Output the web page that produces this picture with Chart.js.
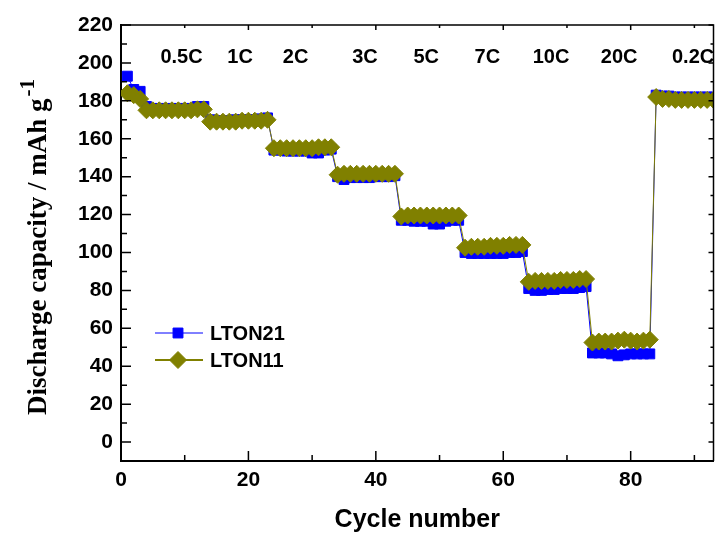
<!DOCTYPE html>
<html lang="en">
<head>
<meta charset="UTF-8">
<title>Rate capability</title>
<script src="https://cdn.jsdelivr.net/npm/chart.js@4.4.0/dist/chart.umd.min.js"></script>
<style>
  html, body { margin: 0; padding: 0; background: #fff; }
  #wrap { width: 723px; height: 540px; }
</style>
</head>
<body>
<div id="wrap"><canvas id="rateChart"></canvas></div>
<script>
const cycles = [1, 2, 3, 4, 5, 6, 7, 8, 9, 10, 11, 12, 13, 14, 15, 16, 17, 18, 19, 20,
    21, 22, 23, 24, 25, 26, 27, 28, 29, 30, 31, 32, 33, 34, 35, 36, 37, 38, 39, 40,
    41, 42, 43, 44, 45, 46, 47, 48, 49, 50, 51, 52, 53, 54, 55, 56, 57, 58, 59, 60,
    61, 62, 63, 64, 65, 66, 67, 68, 69, 70, 71, 72, 73, 74, 75, 76, 77, 78, 79, 80,
    81, 82, 83, 84, 85, 86, 87, 88, 89, 90, 91, 92, 93];

const lton21 = [193, 186, 185,
    177, 176, 176, 176, 176, 176, 176, 176, 177, 177,
    170, 169.5, 169.5, 169.5, 170, 170, 170, 170, 170.5, 171,
    154, 154, 153.5, 153.5, 153.5, 153.5, 152.5, 152.5, 154, 154.5,
    140, 138.5, 139.5, 139.5, 139.5, 139.5, 140, 140, 140, 140.5,
    117, 117, 116.5, 116.5, 116.5, 115, 115, 116.5, 117, 117,
    100, 99.5, 99.5, 99.5, 99.5, 99.5, 99.5, 100, 100, 100.5,
    81, 80, 80, 80.5, 80.5, 81, 81, 81, 81.5, 82,
    47, 47, 47, 46.5, 45.5, 46, 46.5, 46.5, 46.5, 46.5,
    183, 182.5, 182.5, 182, 182, 182, 182, 182, 182, 182];

const lton11 = [184, 183, 181,
    175, 175, 175, 175, 175, 175, 175, 175, 175.5, 175.5,
    169, 169, 169, 169, 169, 169.5, 169.5, 169.5, 169.5, 170,
    155, 155, 155, 155, 155, 155, 155, 155.5, 155.5, 155.5,
    141, 141.5, 141.5, 141.5, 141.5, 141.5, 141.5, 141.5, 141.5, 141.5,
    119, 119.5, 119.5, 119.5, 119.5, 119.5, 119.5, 119.5, 119.5, 119.5,
    102.5, 103, 103, 103, 103.5, 103.5, 103.5, 104, 104, 104,
    84.5, 85, 85, 85, 85, 85.5, 85.5, 85.5, 86, 86,
    52.5, 53, 53, 53, 53.5, 54, 53.5, 53, 53.5, 54,
    182, 181, 181, 180.5, 180.5, 180.5, 180.5, 180.5, 180.5, 180.5];

// C-rate labels along the top, placed in data coordinates
const rateLabels = ['0.5C', '1C', '2C', '3C', '5C', '7C', '10C', '20C', '0.2C'];
const rateLabelX = [9.5, 18.7, 27.4, 38.3, 47.9, 57.5, 67.5, 78.2, 89.8];
const rateLabelY = 203;

const xTicks = [0, 20, 40, 60, 80];
const xMinorTicks = [10, 30, 50, 70, 90];
const yTicks = [0, 20, 40, 60, 80, 100, 120, 140, 160, 180, 200, 220];
const yMinorTicks = [10, 30, 50, 70, 90, 110, 130, 150, 170, 190, 210];

const BLUE = '#0000ff';
const OLIVE = '#808000';
const SANS = "'Liberation Sans', Arial, sans-serif";
const SERIF = "'Liberation Serif', 'Times New Roman', serif";

function points(ys) {
    return cycles.map((c, i) => ({x: c, y: ys[i]}));
}

// box frame with inward ticks on all four sides
const framePlugin = {
    id: 'frame',
    afterDraw(chart) {
        const ctx = chart.ctx;
        const a = chart.chartArea;
        const xs = chart.scales.x, ys = chart.scales.y;
        ctx.save();
        ctx.strokeStyle = '#000';
        ctx.lineWidth = 1.5;
        ctx.beginPath();
        ctx.moveTo(a.left, a.top);
        ctx.lineTo(a.right, a.top);
        ctx.lineTo(a.right, a.bottom);
        ctx.stroke();

        ctx.beginPath();
        const tickX = (vals, lenB, lenT) => vals.forEach(v => {
            const px = xs.getPixelForValue(v);
            ctx.moveTo(px, a.bottom); ctx.lineTo(px, a.bottom - lenB);
            ctx.moveTo(px, a.top); ctx.lineTo(px, a.top + lenT);
        });
        const tickY = (vals, lenL, lenR) => vals.forEach(v => {
            const py = ys.getPixelForValue(v);
            ctx.moveTo(a.left, py); ctx.lineTo(a.left + lenL, py);
            ctx.moveTo(a.right, py); ctx.lineTo(a.right - lenR, py);
        });
        tickX(xTicks, 10, 5);
        tickX(xMinorTicks, 6, 3);
        tickY(yTicks, 10, 5);
        tickY(yMinorTicks, 6, 3);
        ctx.stroke();
        ctx.restore();
    }
};

const rateLabelPlugin = {
    id: 'rateLabels',
    afterDatasetsDraw(chart) {
        const ctx = chart.ctx;
        const xs = chart.scales.x, ys = chart.scales.y;
        ctx.save();
        ctx.fillStyle = '#000';
        ctx.font = 'bold 20px ' + SANS;
        ctx.textAlign = 'center';
        ctx.textBaseline = 'middle';
        rateLabels.forEach((t, i) => {
            ctx.fillText(t, xs.getPixelForValue(rateLabelX[i]), ys.getPixelForValue(rateLabelY));
        });
        ctx.restore();
    }
};

// line + marker legend, like the original plotting program draws it
const legendPlugin = {
    id: 'lineLegend',
    afterDraw(chart) {
        const ctx = chart.ctx;
        const x0 = 155, x1 = 203, xm = 178, tx = 210;
        const rows = [333, 360];
        ctx.save();
        ctx.font = 'bold 20px ' + SANS;
        ctx.textBaseline = 'middle';
        ctx.textAlign = 'left';
        chart.data.datasets.forEach((ds, i) => {
            const y = rows[i];
            ctx.strokeStyle = ds.borderColor;
            ctx.lineWidth = i === 0 ? 1 : 2;
            ctx.beginPath();
            ctx.moveTo(x0, y); ctx.lineTo(x1, y);
            ctx.stroke();
            ctx.fillStyle = ds.pointBackgroundColor;
            ctx.strokeStyle = ds.pointBorderColor;
            ctx.lineWidth = 1;
            Chart.helpers.drawPoint(ctx, {
                pointStyle: ds.pointStyle,
                radius: ds.pointRadius,
                borderWidth: 1
            }, xm, y);
            ctx.fillStyle = '#000';
            ctx.fillText(ds.label, tx, y + 1);
        });
        ctx.restore();
    }
};

const yTitlePlugin = {
    id: 'yTitle',
    afterDraw(chart) {
        const ctx = chart.ctx;
        const main = 'Discharge capacity / mAh g';
        const sup = '-1';
        ctx.save();
        ctx.fillStyle = '#000';
        ctx.textBaseline = 'alphabetic';
        ctx.textAlign = 'left';
        ctx.font = 'bold 27px ' + SERIF;
        const wMain = ctx.measureText(main).width;
        ctx.font = 'bold 21px ' + SERIF;
        const wSup = ctx.measureText(sup).width;
        const total = wMain + 2 + wSup;
        ctx.translate(46, 247);
        ctx.rotate(-Math.PI / 2);
        ctx.font = 'bold 27px ' + SERIF;
        ctx.fillText(main, -total / 2, 0);
        ctx.font = 'bold 21px ' + SERIF;
        ctx.fillText(sup, -total / 2 + wMain + 2, -12);
        ctx.restore();
    }
};

const chart = new Chart(document.getElementById('rateChart'), {
    type: 'line',
    data: {
        datasets: [{
            label: 'LTON21',
            data: points(lton21),
            borderColor: BLUE,
            backgroundColor: BLUE,
            pointBackgroundColor: BLUE,
            pointBorderColor: BLUE,
            pointStyle: 'rect',
            pointRadius: 7,
            pointBorderWidth: 1,
            borderWidth: 1,
            order: 1
        }, {
            label: 'LTON11',
            data: points(lton11),
            borderColor: OLIVE,
            backgroundColor: OLIVE,
            pointBackgroundColor: OLIVE,
            pointBorderColor: OLIVE,
            pointStyle: 'rectRot',
            pointRadius: 8.5,
            pointBorderWidth: 1,
            borderWidth: 1,
            order: 0
        }]
    },
    options: {
        responsive: true,
        maintainAspectRatio: false,
        animation: false,
        layout: {padding: {left: 0, top: 25, right: 6, bottom: 0}},
        plugins: {
            legend: {display: false},
            tooltip: {enabled: false}
        },
        scales: {
            x: {
                type: 'linear',
                min: 0,
                max: 93,
                afterBuildTicks: s => { s.ticks = xTicks.map(v => ({value: v})); },
                afterFit: s => { s.height = 79; },
                grid: {display: false, drawTicks: false},
                border: {display: true, color: '#000', width: 2},
                ticks: {
                    color: '#000',
                    padding: 7,
                    maxRotation: 0,
                    font: {family: SANS, size: 21, weight: 'bold'}
                },
                title: {
                    display: true,
                    text: 'Cycle number',
                    color: '#000',
                    font: {family: SANS, size: 25, weight: 'bold'},
                    padding: {top: 0, bottom: 5}
                }
            },
            y: {
                type: 'linear',
                min: -10,
                max: 220,
                afterBuildTicks: s => { s.ticks = yTicks.map(v => ({value: v})); },
                afterFit: s => { s.width = 121; },
                grid: {display: false, drawTicks: false},
                border: {display: true, color: '#000', width: 2},
                ticks: {
                    color: '#000',
                    padding: 8,
                    font: {family: SANS, size: 21, weight: 'bold'}
                }
            }
        }
    },
    plugins: [framePlugin, rateLabelPlugin, legendPlugin, yTitlePlugin]
});
</script>
</body>
</html>
